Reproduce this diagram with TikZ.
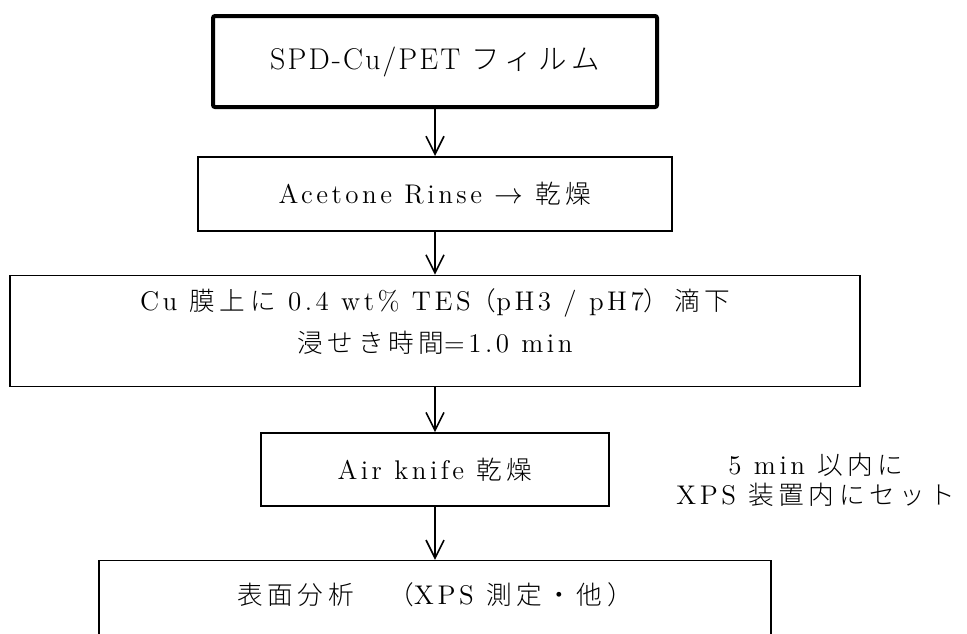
\documentclass[tikz,border=0pt]{standalone}
\usepackage{fontspec}
\setmainfont[LetterSpace=13]{Latin Modern Roman}
\newfontfamily\jpfont[LetterSpace=18, Scale=0.95]{Noto Sans CJK JP Light}
\newcommand{\jp}[1]{{\jpfont #1}}
\usetikzlibrary{shapes,arrows.meta,positioning,calc}
\tikzset{
stepbox/.style = {draw, fill=white, rectangle, align = center, line width=0.8pt, inner sep=0pt},
startbox/.style = {stepbox, line width=2pt, rounded corners=1pt},
note/.style = {align = center},
flow/.style = {->, line width=0.8pt},
}

\begin{document}
\begin{tikzpicture}[x=0.5pt, y=-0.5pt, >={Straight Barb[length=9pt,width=9pt]}, font=\fontsize{13.5}{15}\selectfont]
  \clip (0,0) rectangle (967,633);
  \fill [white] (0,0) rectangle (967,633);
  \node [startbox, minimum width=222pt, minimum height=45.5pt, font=\fontsize{15}{17}\selectfont\addfontfeatures{LetterSpace=7}] (film) at (435,61.5) {SPD-Cu/PET \jp{フィルム}};
  \node [stepbox, minimum width=237pt, minimum height=37pt, below=23.5pt of film] (rinse) {Acetone Rinse $\rightarrow$ \jp{乾燥}};
  \node [stepbox, minimum width=425pt, minimum height=55.5pt, below=21.5pt of rinse] (dip) {};
  \node [note, font=\fontsize{13.5}{21}\selectfont] (diptext) at ([yshift=4.5pt]dip.center)
    {Cu \jp{膜上に} 0.4 wt\% TES\jp{（}pH3 / pH7\jp{）滴下}\\\jp{浸せき時間}=1.0 min};
  \node [stepbox, minimum width=174pt, minimum height=36.5pt, below=22.5pt of dip] (knife) {Air knife \jp{乾燥}};
  \node [stepbox, minimum width=336pt, minimum height=60pt, below=26.5pt of knife] (xps) {};
  \node [note] (xpstext) at ($(xps.north)+(0,-17.5pt)$) {\jp{表面分析　（}XPS \jp{測定・他）}};
  \node [note] (timing) at (816,480) {5 min \jp{以内に}\\XPS \jp{装置内にセット}};
  \draw [flow] (film) -- (rinse);
  \draw [flow] (rinse) -- (dip);
  \draw [flow] (dip) -- (knife);
  \draw [flow] (knife) -- (xps);
\end{tikzpicture}
\end{document}
